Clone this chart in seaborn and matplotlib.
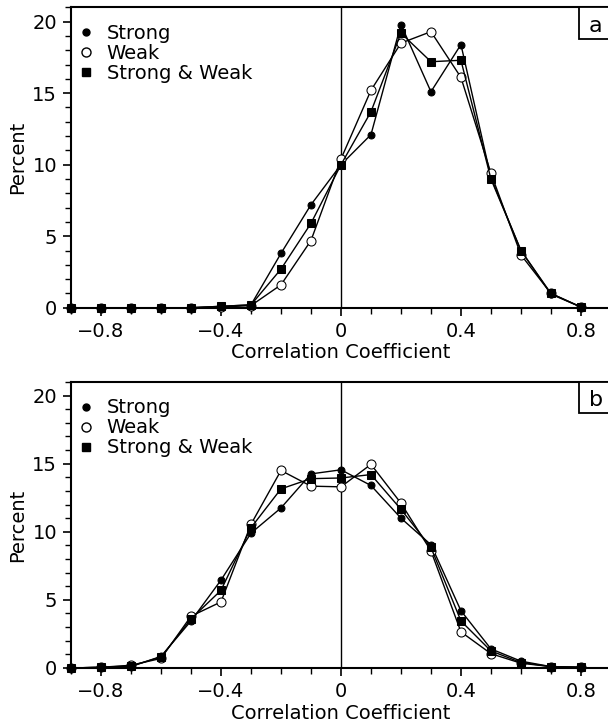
import numpy as np
import pandas as pd
import matplotlib
matplotlib.use('Agg')
import matplotlib.pyplot as plt
import matplotlib.transforms as mtransforms
from matplotlib.lines import Line2D
from matplotlib.patches import Rectangle
from matplotlib.ticker import MultipleLocator, FuncFormatter
import seaborn as sns

# correlation coefficient bins
corr = [-0.9, -0.8, -0.7, -0.6, -0.5, -0.4, -0.3, -0.2, -0.1, 0.0,
        0.1, 0.2, 0.3, 0.4, 0.5, 0.6, 0.7, 0.8]

# panel a (percent)
a_strong = [0, 0, 0, 0, 0, 0.1, 0.2, 3.8, 7.2, 10.0, 12.1, 19.8, 15.1, 18.4, 9.1, 4.0, 0.95, 0.05]
a_weak = [0, 0, 0, 0, 0, 0.05, 0.15, 1.6, 4.7, 10.4, 15.2, 18.5, 19.3, 16.1, 9.4, 3.7, 1.0, 0.05]
a_both = [0, 0, 0, 0, 0, 0.1, 0.2, 2.7, 5.9, 10.0, 13.7, 19.2, 17.2, 17.3, 9.0, 4.0, 1.0, 0.05]

# panel b (percent)
b_strong = [0, 0.05, 0.1, 0.85, 3.45, 6.45, 9.9, 11.75, 14.25, 14.55, 13.4, 11.0, 9.05, 4.2, 1.4, 0.5, 0.1, 0.05]
b_weak = [0, 0.05, 0.2, 0.7, 3.8, 4.85, 10.55, 14.5, 13.35, 13.3, 14.95, 12.1, 8.6, 2.65, 1.05, 0.35, 0.1, 0.05]
b_both = [0, 0.05, 0.15, 0.8, 3.6, 5.7, 10.3, 13.15, 13.9, 13.95, 14.2, 11.65, 8.85, 3.45, 1.25, 0.4, 0.1, 0.05]

series_names = ['Strong', 'Weak', 'Strong & Weak']
panel_labels = ['a', 'b']

sns.set_style('ticks')
plt.rcParams['font.family'] = ['DejaVu Sans']
plt.rcParams['font.size'] = 14
plt.rcParams['text.color'] = 'black'
plt.rcParams['axes.labelcolor'] = 'black'

fig = plt.figure(figsize=(6.08, 7.27), dpi=100)
ax1 = fig.add_axes([0.1168, 0.5767, 0.888, 0.4132])
ax2 = fig.add_axes([0.1168, 0.0812, 0.888, 0.3934])

styles = {
    'Strong': dict(marker='o', markersize=5, markerfacecolor='black', markeredgecolor='black'),
    'Weak': dict(marker='o', markersize=6.5, markerfacecolor='white', markeredgecolor='black'),
    'Strong & Weak': dict(marker='s', markersize=5.5, markerfacecolor='black', markeredgecolor='black'),
}


def fmt(v, pos):
    if abs(v) < 1e-9:
        return '0'
    return f'{v:.1f}'.replace('-', '\u2212')


for ax, vals, lab in [(ax1, [a_strong, a_weak, a_both], panel_labels[0]),
                      (ax2, [b_strong, b_weak, b_both], panel_labels[1])]:
    ax.axvline(0, color='black', lw=1.0, zorder=1)
    for name, y in zip(series_names, vals):
        df = pd.DataFrame({'corr': corr, 'pct': y})
        sns.lineplot(data=df, x='corr', y='pct', ax=ax, color='black', lw=1.0,
                     clip_on=False, zorder=3, **styles[name])

    ax.set_xlim(-0.9, 0.9)
    ax.set_ylim(0, 21)
    ax.xaxis.set_major_locator(MultipleLocator(0.4))
    ax.xaxis.set_minor_locator(MultipleLocator(0.1))
    ax.yaxis.set_major_locator(MultipleLocator(5))
    ax.yaxis.set_minor_locator(MultipleLocator(1))
    ax.xaxis.set_major_formatter(FuncFormatter(fmt))
    ax.tick_params(which='major', direction='out', length=6, width=1.2, labelsize=14,
                   colors='black', pad=4)
    ax.tick_params(which='minor', direction='out', length=4, width=1.0, colors='black')
    for s in ax.spines.values():
        s.set_linewidth(1.5)
        s.set_color('black')
    ax.set_xlabel('Correlation Coefficient', fontsize=14, labelpad=2)
    ax.set_ylabel('Percent', fontsize=14, labelpad=4)

    handles = [Line2D([], [], linestyle='none', color='black', **styles[n]) for n in series_names]
    ax.legend(handles, series_names, loc='upper left', bbox_to_anchor=(-0.013, 1.0),
              frameon=False, fontsize=14, labelcolor='black',
              handlelength=0.6, handletextpad=0.75, labelspacing=0.05,
              borderaxespad=0.55, borderpad=0.3)

    # panel letter box, cut off at the right edge like the original
    tr = mtransforms.blended_transform_factory(ax.transData, ax.transAxes)
    h = 31.5 / (ax.get_position().height * fig.bbox.height)
    ax.add_patch(Rectangle((0.792, 1 - h), 0.3, h, transform=tr, fc='white', ec='black',
                           lw=1.3, clip_on=False, zorder=5))
    ax.text(0.826, 1 - h * 0.58, lab, transform=tr, fontsize=16, ha='left', va='center',
            color='black', zorder=6)

fig.savefig('out.png', dpi=100)
